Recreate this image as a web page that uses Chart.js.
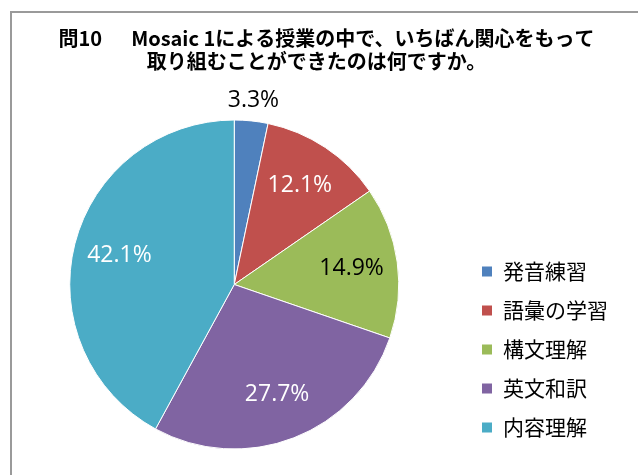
<!DOCTYPE html>
<html>
<head>
<meta charset="utf-8">
<script src="https://cdn.jsdelivr.net/npm/chart.js@4"></script>
<style>
  html, body { margin: 0; padding: 0; background: #fff; }
  #wrap { position: relative; width: 638px; height: 475px; }
</style>
</head>
<body>
<div id="wrap"><canvas id="myChart"></canvas></div>
<script>
// chart data
const titleLines = ['　問10　  Mosaic 1による授業の中で、いちばん関心をもって', '取り組むことができたのは何ですか。'];
const categories = ['発音練習', '語彙の学習', '構文理解', '英文和訳', '内容理解'];
const percents = [3.3, 12.1, 14.9, 27.7, 42.1];

const sliceColours = ['#4F81BD', '#C0504D', '#9BBB59', '#8064A2', '#4BACC6'];
const labelColours = ['#000000', '#FFFFFF', '#000000', '#FFFFFF', '#FFFFFF'];

// gray frame round the chart area (cut off at right / bottom like the original)
const framePlugin = {
  id: 'frame',
  beforeDraw(chart) {
    const ctx = chart.ctx;
    ctx.save();
    ctx.fillStyle = '#fff';
    ctx.fillRect(0, 0, chart.width, chart.height);
    ctx.strokeStyle = '#9a9a9a';
    ctx.lineWidth = 2;
    ctx.strokeRect(11, 12, chart.width + 20, chart.height + 20);
    ctx.restore();
  }
};

// title sits a bit right of the full-width centre
const titleShift = {
  id: 'titleShift',
  afterLayout(chart) {
    chart.titleBlock.left += 5;
    chart.titleBlock.right += 5;
  }
};

// percentage labels, small slices go outside
const sliceLabels = {
  id: 'sliceLabels',
  afterDatasetsDraw(chart) {
    const ctx = chart.ctx;
    const meta = chart.getDatasetMeta(0);
    ctx.save();
    ctx.font = '23px "Open Sans"';
    ctx.textAlign = 'center';
    ctx.textBaseline = 'middle';
    meta.data.forEach((arc, i) => {
      const {x, y, startAngle, endAngle, outerRadius} = arc.getProps(['x', 'y', 'startAngle', 'endAngle', 'outerRadius'], true);
      const mid = (startAngle + endAngle) / 2;
      const val = chart.data.datasets[0].data[i];
      const r = val < 5 ? outerRadius + 21 : outerRadius * 0.72;
      ctx.fillStyle = labelColours[i];
      ctx.fillText(val.toFixed(1) + '%', x + Math.cos(mid) * r, y + Math.sin(mid) * r);
    });
    ctx.restore();
  }
};

const ctx = document.getElementById('myChart').getContext('2d');
new Chart(ctx, {
  type: 'pie',
  data: {
    labels: categories,
    datasets: [{
      data: percents,
      backgroundColor: sliceColours,
      borderColor: '#FFFFFF',
      borderWidth: 1,
      radius: 164.5
    }]
  },
  options: {
    responsive: true,
    maintainAspectRatio: false,
    animation: false,
    layout: {
      padding: {left: 5, right: 20, top: 0, bottom: 19}
    },
    plugins: {
      title: {
        display: true,
        text: titleLines,
        color: '#000',
        font: {family: '"Noto Sans CJK JP"', size: 20, weight: 'bold', lineHeight: 1.15},
        padding: {top: 26.5, bottom: 40.5}
      },
      legend: {
        display: true,
        position: 'right',
        align: 'end',
        labels: {
          boxWidth: 11,
          boxHeight: 11,
          padding: 18,
          color: '#000',
          font: {family: '"Noto Sans CJK JP"', size: 21}
        }
      },
      tooltip: {enabled: false}
    }
  },
  plugins: [framePlugin, titleShift, sliceLabels]
});
</script>
</body>
</html>
